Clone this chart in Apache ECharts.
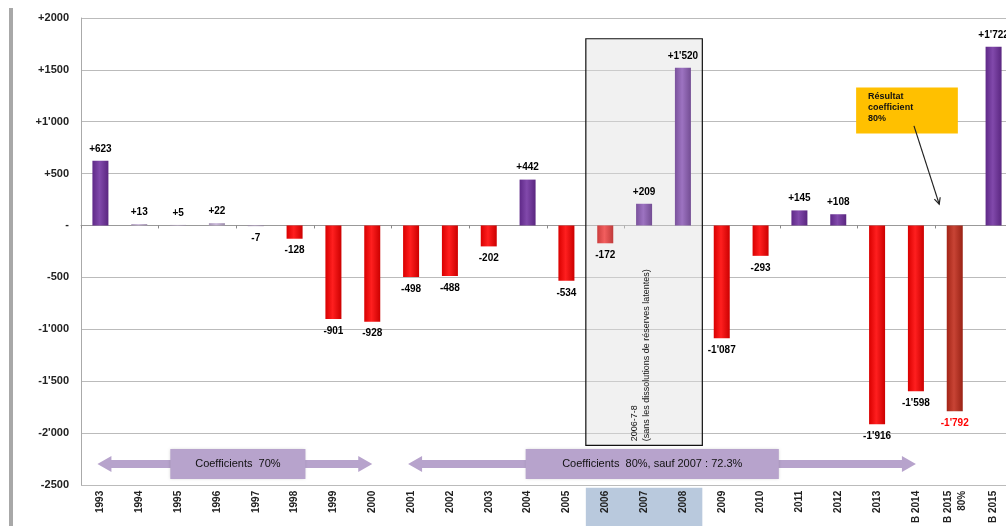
<!DOCTYPE html>
<html><head><meta charset="utf-8">
<script src="https://cdn.jsdelivr.net/npm/echarts@6/dist/echarts.min.js"></script>
<style>html,body{margin:0;padding:0;background:#fff;overflow:hidden;width:1006px;height:526px}#c{width:1013px;height:526px}</style>
</head><body><div id="c"></div>
<script>
const categories = ['1993','1994','1995','1996','1997','1998','1999','2000','2001','2002','2003','2004','2005','2006','2007','2008','2009','2010','2011','2012','2013','B 2014','B 2015\n80%','B 2015'];
const values = [623, 13, 5, 22, -7, -128, -901, -928, -498, -488, -202, 442, -534, -172, 209, 1520, -1087, -293, 145, 108, -1916, -1598, -1792, 1722];
const valueLabels = ['+623','+13','+5','+22','-7','-128','-901','-928','-498','-488','-202','+442','-534','-172','+209',"+1'520","-1'087",'-293','+145','+108',"-1'916","-1'598","-1'792","+1'722"];
const barColors = ['#7030a0','#c4b0d6','#c4b0d6','#c4b0d6','#b49ec8','#ff0000','#ff0000','#ff0000','#ff0000','#ff0000','#ff0000','#7030a0','#ff0000','#f04848','#9060b8','#9060b8','#ff0000','#ff0000','#7030a0','#7030a0','#ff0000','#ff0000','#c02a1a','#7030a0'];
const labelColors = ['#000','#000','#000','#000','#000','#000','#000','#000','#000','#000','#000','#000','#000','#000','#000','#000','#000','#000','#000','#000','#000','#000','#ff0000','#000'];
const yTickValues = [2000, 1500, 1000, 500, 0, -500, -1000, -1500, -2000, -2500];
const yTickLabels = ['+2000','+1500',"+1'000",'+500','-','-500',"-1'000","-1'500","-2'000",'-2500'];
const highlightCats = ['2006','2007','2008'];
const boxTop = 1800, boxBottom = -2120;
const arrowLevel = -2300;
const arrow1 = {from: '1993', to: '2000', text: 'Coefficients  70%', boxFrom: 1.8, boxTo: 5.28};
const arrow2 = {from: '2001', to: 'B 2014', text: 'Coefficients  80%, sauf 2007 : 72.3%', boxFrom: 10.95, boxTo: 17.47};
const note = {text: 'Résultat\ncoefficient\n80%', x0: 19.46, x1: 22.08, y0: 1330, y1: 886, ax0: 20.95, ay0: 960, ax1: 21.6, ay1: 205};

function shade(hex, f) {
  const n = parseInt(hex.slice(1), 16);
  let r = (n >> 16) & 255, g = (n >> 8) & 255, b = n & 255;
  const m = v => Math.max(0, Math.min(255, Math.round(f < 0 ? v * (1 + f) : v + (255 - v) * f)));
  return 'rgb(' + m(r) + ',' + m(g) + ',' + m(b) + ')';
}

const chart = echarts.init(document.getElementById('c'));
const font = '"Liberation Sans", Arial, sans-serif';

const option = {
  animation: false,
  textStyle: {fontFamily: font},
  grid: {left: 81, top: 18, right: 0, height: 469, containLabel: false},
  xAxis: [
    {type: 'category', data: categories, position: 'bottom',
      axisLine: {show: false, onZero: false}, axisTick: {show: false},
      axisLabel: {rotate: 90, fontSize: 10, fontWeight: 'bold', color: '#222', margin: 6, lineHeight: 14, fontFamily: font},
      splitLine: {show: false}},
    {type: 'category', data: categories, position: 'top',
      axisLine: {show: true, onZero: true, lineStyle: {color: '#999', width: 1}},
      axisTick: {show: true, inside: true, length: 3, lineStyle: {color: '#888'}},
      axisLabel: {show: false}, splitLine: {show: false}}
  ],
  yAxis: {type: 'value', min: -2500, max: 2000, interval: 500,
    axisLine: {show: true, lineStyle: {color: '#aaa'}}, axisTick: {show: false},
    axisLabel: {fontSize: 11, fontWeight: 'bold', color: '#222', margin: 12, fontFamily: font,
      formatter: v => { const i = yTickValues.indexOf(v); return i >= 0 ? yTickLabels[i] : ''; }},
    splitLine: {show: true, lineStyle: {color: '#bbb', width: 1}}},
  series: [{
    type: 'bar', xAxisIndex: 0, barWidth: 16, z: 3,
    data: values.map((v, i) => ({
      value: v,
      itemStyle: {color: new echarts.graphic.LinearGradient(0, 0, 1, 0, [
        {offset: 0, color: shade(barColors[i], -0.15)},
        {offset: 0.45, color: shade(barColors[i], 0.12)},
        {offset: 1, color: shade(barColors[i], -0.2)}])},
      label: {show: true, position: v >= 0 ? 'top' : 'bottom', distance: 7,
        formatter: valueLabels[i], color: labelColors[i], fontSize: 10, fontWeight: 'bold', fontFamily: font}
    }))
  }]
};
chart.setOption(option);

function px(i, v) { return chart.convertToPixel({xAxisIndex: 0, yAxisIndex: 0}, [i, v]); }
function xAt(f) { const a = px(0, 0)[0], b = px(1, 0)[0]; return a + f * (b - a); }
const step = px(1, 0)[0] - px(0, 0)[0];
const yAt = v => px(0, v)[1];

const g = [];
g.push({type: 'rect', shape: {x: 9, y: 8, width: 4, height: 520}, style: {fill: '#a8a8a8'}, z: 0});
const hi0 = categories.indexOf(highlightCats[0]), hi1 = categories.indexOf(highlightCats[highlightCats.length - 1]);
const bx0 = xAt(hi0) - step / 2, bx1 = xAt(hi1) + step / 2;
g.push({type: 'rect', shape: {x: bx0, y: yAt(boxTop), width: bx1 - bx0, height: yAt(boxBottom) - yAt(boxTop)},
  style: {fill: 'rgba(225,225,225,0.45)', stroke: '#111', lineWidth: 1.2}, z: 1});
g.push({type: 'rect', shape: {x: bx0, y: yAt(-2500) + 3, width: bx1 - bx0, height: 40}, style: {fill: '#b9c9dd'}, z: 0});
const tx = xAt(hi0 + 0.6), ty = yAt(boxBottom) - 4;
g.push({type: 'text', x: tx, y: ty, rotation: Math.PI / 2, z: 5,
  style: {text: '2006-7-8\n(sans les dissolutions de réserves latentes)', font: '9px ' + font, fill: '#111', align: 'left', verticalAlign: 'top', lineHeight: 12}});

function dblArrow(a) {
  const x0 = xAt(categories.indexOf(a.from)) - 3, x1 = xAt(categories.indexOf(a.to));
  const y = yAt(arrowLevel);
  const h = 4, H = 8, L = 14;
  const col = '#b7a3cc';
  g.push({type: 'polygon', z: 4, shape: {points: [
    [x0, y], [x0 + L, y - H], [x0 + L, y - h], [x1 - L, y - h], [x1 - L, y - H], [x1, y],
    [x1 - L, y + H], [x1 - L, y + h], [x0 + L, y + h], [x0 + L, y + H]]}, style: {fill: col}});
  const b0 = xAt(a.boxFrom), b1 = xAt(a.boxTo);
  g.push({type: 'rect', z: 5, shape: {x: b0, y: y - 15, width: b1 - b0, height: 30}, style: {fill: col, shadowBlur: 3, shadowColor: 'rgba(0,0,0,0.2)'}});
  g.push({type: 'text', z: 6, x: (b0 + b1) / 2, y: y, style: {text: a.text, font: '11px ' + font, fill: '#111', align: 'center', verticalAlign: 'middle'}});
}
dblArrow(arrow1);
dblArrow(arrow2);

const nx0 = xAt(note.x0), nx1 = xAt(note.x1), ny0 = yAt(note.y0), ny1 = yAt(note.y1);
g.push({type: 'rect', z: 6, shape: {x: nx0, y: ny0, width: nx1 - nx0, height: ny1 - ny0}, style: {fill: '#ffc000'}});
g.push({type: 'text', z: 7, x: nx0 + 12, y: ny0 + 4, style: {text: note.text, font: 'bold 9px ' + font, fill: '#111', lineHeight: 11, align: 'left', verticalAlign: 'top'}});
const ax0 = xAt(note.ax0), ay0 = yAt(note.ay0), ax1 = xAt(note.ax1), ay1 = yAt(note.ay1);
g.push({type: 'line', z: 7, shape: {x1: ax0, y1: ay0, x2: ax1, y2: ay1}, style: {stroke: '#222', lineWidth: 1.2}});
const ang = Math.atan2(ay1 - ay0, ax1 - ax0);
g.push({type: 'polyline', z: 7, shape: {points: [
  [ax1 - 7 * Math.cos(ang - 0.45), ay1 - 7 * Math.sin(ang - 0.45)], [ax1, ay1],
  [ax1 - 7 * Math.cos(ang + 0.45), ay1 - 7 * Math.sin(ang + 0.45)]]}, style: {stroke: '#222', lineWidth: 1.2, fill: null}});

chart.setOption({graphic: {elements: g}});
</script></body></html>
